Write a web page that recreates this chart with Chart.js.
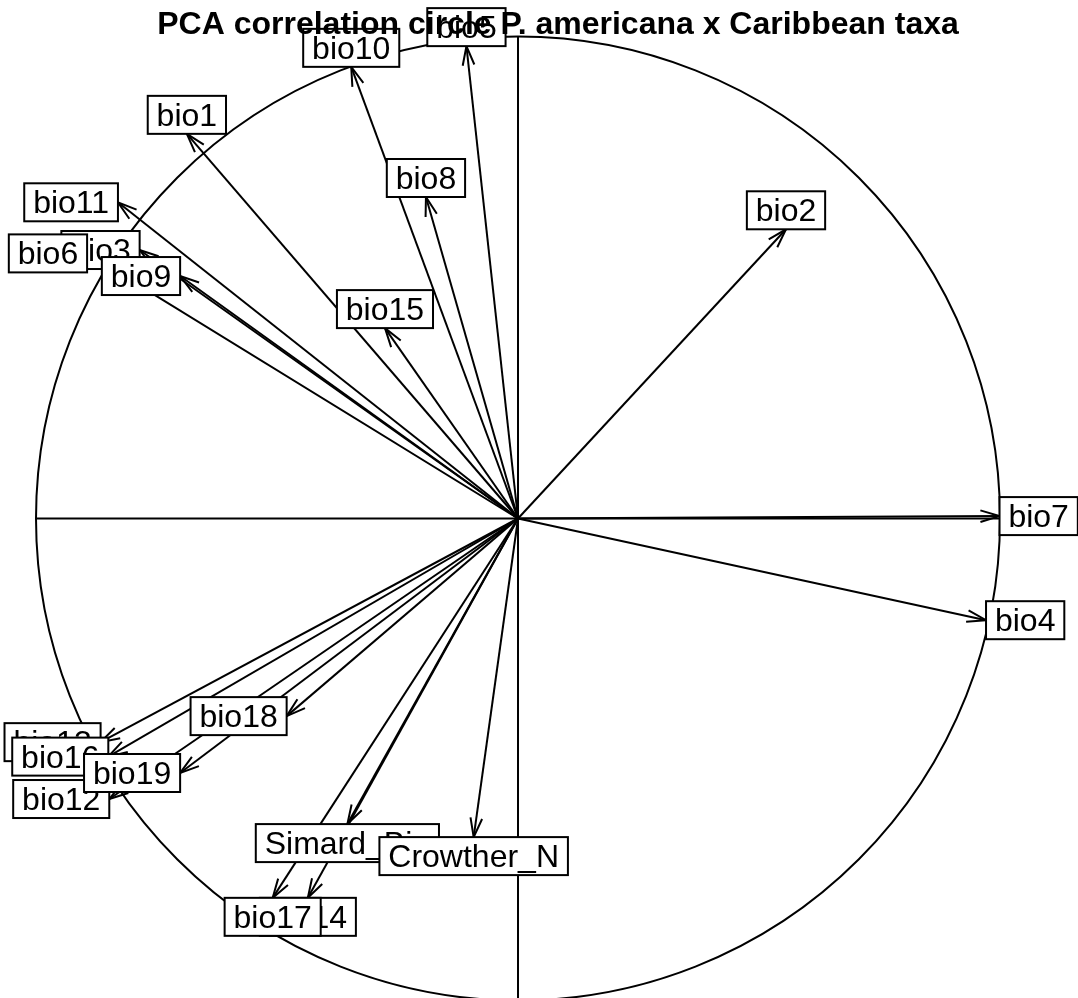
<!DOCTYPE html>
<html lang="en">
<head>
  <meta charset="UTF-8" />
  <title>PCA correlation circle</title>
  <script src="https://cdn.jsdelivr.net/npm/chart.js"></script>
  <style>
    body {
      margin: 0;
      background: #ffffff;
    }
    .chart-box {
      position: relative;
      width: 1078px;
      height: 998px;
    }
  </style>
</head>
<body>
  <div class="chart-box"><canvas id="pcaChart"></canvas></div>

  <script>
    // variable loadings
    const varNames = ["bio1", "bio2", "bio3", "bio4", "bio5", "bio6", "bio7", "bio8", "bio9", "bio10",
                      "bio11", "bio12", "bio13", "bio14", "bio15", "bio16", "bio17", "bio18", "bio19",
                      "Simard_Bio", "Crowther_N"];
    const pc1 = [-0.687, 0.556, -0.785, 0.971, -0.107, -0.894, 0.999, -0.191, -0.701, -0.346,
                 -0.830, -0.848, -0.866, -0.436, -0.276, -0.850, -0.509, -0.480, -0.701,
                 -0.354, -0.092];
    const pc2 = [0.798, 0.600, 0.557, -0.211, 0.980, 0.550, 0.005, 0.667, 0.503, 0.937,
                 0.656, -0.582, -0.464, -0.787, 0.395, -0.494, -0.787, -0.410, -0.528,
                 -0.634, -0.661];
    const chartTitle = "PCA correlation circle P. americana x Caribbean taxa";

    const labelFont = "32px 'Liberation Sans', Arial, sans-serif";
    const titleFont = "bold 32px 'Liberation Sans', Arial, sans-serif";

    // unit circle + the two axes through the origin
    const circlePlugin = {
      id: "circle",
      beforeDatasetsDraw(chart) {
        const { ctx, scales: { x, y } } = chart;
        const cx = x.getPixelForValue(0);
        const cy = y.getPixelForValue(0);
        const r = x.getPixelForValue(1) - cx;
        ctx.save();
        ctx.strokeStyle = "#000";
        ctx.lineWidth = 2;
        ctx.beginPath();
        ctx.arc(cx, cy, r, 0, Math.PI * 2);
        ctx.stroke();
        ctx.beginPath();
        ctx.moveTo(x.getPixelForValue(-1), cy);
        ctx.lineTo(x.getPixelForValue(1), cy);
        ctx.moveTo(cx, y.getPixelForValue(-1));
        ctx.lineTo(cx, y.getPixelForValue(1));
        ctx.stroke();
        ctx.restore();
      }
    };

    // arrow heads and boxed labels (ade4 style placement)
    const labelPlugin = {
      id: "arrowLabels",
      afterDatasetsDraw(chart) {
        const { ctx, scales: { x, y } } = chart;
        const cx = x.getPixelForValue(0);
        const cy = y.getPixelForValue(0);
        ctx.save();
        ctx.strokeStyle = "#000";
        ctx.lineWidth = 2;

        for (let i = 0; i < varNames.length; i++) {
          const tx = x.getPixelForValue(pc1[i]);
          const ty = y.getPixelForValue(pc2[i]);
          const ang = Math.atan2(ty - cy, tx - cx);
          const len = 20, spread = 17 * Math.PI / 180;
          ctx.beginPath();
          ctx.moveTo(tx - len * Math.cos(ang - spread), ty - len * Math.sin(ang - spread));
          ctx.lineTo(tx, ty);
          ctx.lineTo(tx - len * Math.cos(ang + spread), ty - len * Math.sin(ang + spread));
          ctx.stroke();
        }

        ctx.font = labelFont;
        ctx.textAlign = "center";
        const h = 19;
        for (let i = 0; i < varNames.length; i++) {
          const xr = pc1[i], yr = pc2[i];
          const tx = x.getPixelForValue(xr);
          const ty = y.getPixelForValue(yr);
          const txt = " " + varNames[i] + " ";
          const w = ctx.measureText(txt).width;
          let bx, by;
          if (xr > yr && xr > -yr) { bx = tx + w / 2; by = ty; }
          else if (xr > yr && xr <= -yr) { bx = tx; by = ty + h; }
          else if (xr <= yr && xr <= -yr) { bx = tx - w / 2; by = ty; }
          else { bx = tx; by = ty - h; }
          ctx.fillStyle = "#fff";
          ctx.fillRect(bx - w / 2, by - h, w, 2 * h);
          ctx.strokeRect(bx - w / 2, by - h, w, 2 * h);
          ctx.fillStyle = "#000";
          ctx.fillText(txt, bx, by + 11);
        }
        ctx.restore();
      },
      afterDraw(chart) {
        const ctx = chart.ctx;
        ctx.save();
        ctx.font = titleFont;
        ctx.fillStyle = "#000";
        ctx.textAlign = "center";
        ctx.fillText(chartTitle, 558, 34);
        ctx.restore();
      }
    };

    const arrowSets = varNames.map((name, i) => ({
      label: name,
      data: [{ x: 0, y: 0 }, { x: pc1[i], y: pc2[i] }],
      showLine: true,
      borderColor: "#000",
      borderWidth: 2,
      pointRadius: 0
    }));

    new Chart(document.getElementById("pcaChart"), {
      type: "scatter",
      data: { datasets: arrowSets },
      options: {
        responsive: true,
        maintainAspectRatio: false,
        animation: false,
        layout: { padding: 0 },
        plugins: {
          legend: { display: false },
          tooltip: { enabled: false }
        },
        scales: {
          x: { type: "linear", display: false, min: -1.0747, max: 1.1618 },
          y: { type: "linear", display: false, min: -0.9948, max: 1.0757 }
        }
      },
      plugins: [circlePlugin, labelPlugin]
    });
  </script>
</body>
</html>
